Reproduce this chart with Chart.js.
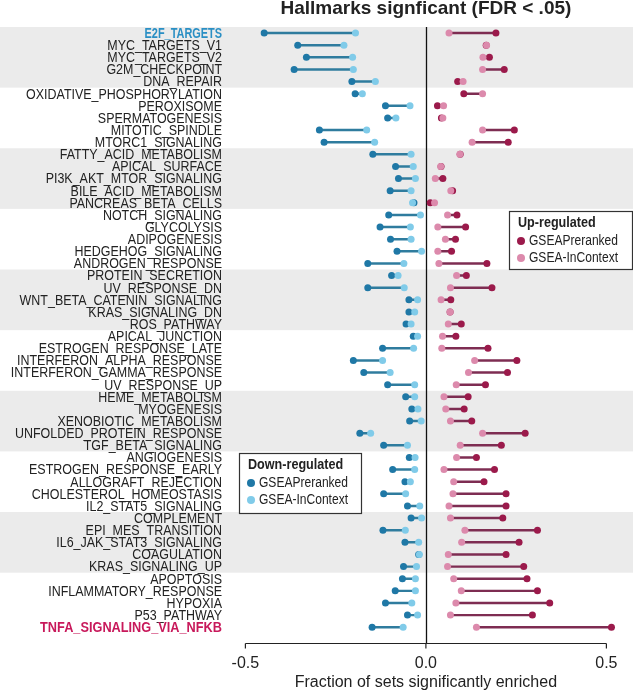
<!DOCTYPE html>
<html>
<head>
<meta charset="utf-8">
<script src="https://cdn.jsdelivr.net/npm/chart.js@4.4.1/dist/chart.umd.min.js"></script>
<style>
  html, body { margin: 0; padding: 0; background: #fff; }
  #wrap { width: 633px; height: 692px; position: relative; }
</style>
</head>
<body>
<div id="wrap"><canvas id="chart"></canvas></div>
<script>
const categories = [
  "E2F_TARGETS", "MYC_TARGETS_V1", "MYC_TARGETS_V2", "G2M_CHECKPOINT", "DNA_REPAIR",
  "OXIDATIVE_PHOSPHORYLATION", "PEROXISOME", "SPERMATOGENESIS", "MITOTIC_SPINDLE", "MTORC1_SIGNALING",
  "FATTY_ACID_METABOLISM", "APICAL_SURFACE", "PI3K_AKT_MTOR_SIGNALING", "BILE_ACID_METABOLISM", "PANCREAS_BETA_CELLS",
  "NOTCH_SIGNALING", "GLYCOLYSIS", "ADIPOGENESIS", "HEDGEHOG_SIGNALING", "ANDROGEN_RESPONSE",
  "PROTEIN_SECRETION", "UV_RESPONSE_DN", "WNT_BETA_CATENIN_SIGNALING", "KRAS_SIGNALING_DN", "ROS_PATHWAY",
  "APICAL_JUNCTION", "ESTROGEN_RESPONSE_LATE", "INTERFERON_ALPHA_RESPONSE", "INTERFERON_GAMMA_RESPONSE", "UV_RESPONSE_UP",
  "HEME_METABOLISM", "MYOGENESIS", "XENOBIOTIC_METABOLISM", "UNFOLDED_PROTEIN_RESPONSE", "TGF_BETA_SIGNALING",
  "ANGIOGENESIS", "ESTROGEN_RESPONSE_EARLY", "ALLOGRAFT_REJECTION", "CHOLESTEROL_HOMEOSTASIS", "IL2_STAT5_SIGNALING",
  "COMPLEMENT", "EPI_MES_TRANSITION", "IL6_JAK_STAT3_SIGNALING", "COAGULATION", "KRAS_SIGNALING_UP",
  "APOPTOSIS", "INFLAMMATORY_RESPONSE", "HYPOXIA", "P53_PATHWAY", "TNFA_SIGNALING_VIA_NFKB"
];

// down-regulated (negative fractions)
const downPreranked = [
  -0.448, -0.355, -0.331, -0.365, -0.205,
  -0.196, -0.112, -0.106, -0.295, -0.282,
  -0.147, -0.084, -0.076, -0.099, -0.033,
  -0.103, -0.127, -0.098, -0.080, -0.161,
  -0.095, -0.161, -0.047, -0.047, -0.055,
  -0.035, -0.120, -0.201, -0.172, -0.106,
  -0.056, -0.039, -0.045, -0.183, -0.117,
  -0.046, -0.092, -0.058, -0.117, -0.051,
  -0.041, -0.119, -0.058, -0.020, -0.062,
  -0.065, -0.085, -0.112, -0.051, -0.149
];
const downInContext = [
  -0.195, -0.227, -0.203, -0.201, -0.140,
  -0.176, -0.044, -0.083, -0.164, -0.142,
  -0.041, -0.035, -0.029, -0.041, -0.037,
  -0.015, -0.043, -0.041, -0.012, -0.061,
  -0.077, -0.060, -0.023, -0.031, -0.041,
  -0.023, -0.034, -0.120, -0.099, -0.031,
  -0.031, -0.022, -0.013, -0.153, -0.051,
  -0.030, -0.031, -0.043, -0.056, -0.017,
  -0.012, -0.057, -0.020, -0.018, -0.026,
  -0.029, -0.029, -0.039, -0.023, -0.063
];

// up-regulated
const upPreranked = [
  0.194, 0.167, 0.176, 0.217, 0.088,
  0.105, 0.032, 0.043, 0.245, 0.228,
  0.095, 0.042, 0.047, 0.074, 0.012,
  0.086, 0.110, 0.082, 0.071, 0.169,
  0.112, 0.183, 0.069, 0.067, 0.098,
  0.083, 0.172, 0.252, 0.226, 0.165,
  0.117, 0.106, 0.127, 0.275, 0.209,
  0.140, 0.190, 0.161, 0.222, 0.222,
  0.213, 0.309, 0.258, 0.222, 0.271,
  0.280, 0.309, 0.343, 0.295, 0.514
];
const upInContext = [
  0.064, 0.168, 0.158, 0.157, 0.103,
  0.157, 0.049, 0.047, 0.157, 0.128,
  0.094, 0.041, 0.026, 0.069, 0.024,
  0.060, 0.033, 0.054, 0.033, 0.036,
  0.085, 0.068, 0.042, 0.067, 0.062,
  0.046, 0.044, 0.135, 0.118, 0.084,
  0.050, 0.055, 0.068, 0.157, 0.095,
  0.085, 0.050, 0.077, 0.075, 0.064,
  0.068, 0.108, 0.099, 0.062, 0.060,
  0.077, 0.098, 0.083, 0.068, 0.140
];

const xTicks = [-0.5, 0, 0.5];
const bandStarts = [0, 10, 20, 30, 40]; // grey blocks of 5 rows
const highlightDown = "E2F_TARGETS";
const highlightUp = "TNFA_SIGNALING_VIA_NFKB";

const FONT = "'Liberation Sans', Arial, Helvetica, sans-serif";
const BLUE_DARK = "#1f78a6";
const BLUE_LIGHT = "#80cbe9";
const BLUE_SEG = "#2f7c9e";
const RED_DARK = "#9b1a4b";
const RED_LIGHT = "#dc8aac";
const RED_SEG = "#7e2d52";

const pts = (arr) => arr.map((v, i) => ({ x: v, y: i }));
const segs = (a, b) => a.map((v, i) => ({ x: [v, b[i]], y: i }));

function squeeze(ctx, text, x, y, align, sx) {
  ctx.save();
  ctx.translate(x, y);
  ctx.scale(sx, 1);
  ctx.textAlign = align;
  ctx.fillText(text, 0, 0);
  ctx.restore();
}

function drawLegend(ctx, box, title, items) {
  ctx.save();
  ctx.fillStyle = "#fff";
  ctx.fillRect(box.x, box.y, box.w, box.h);
  ctx.strokeStyle = "#333";
  ctx.lineWidth = 1.2;
  ctx.strokeRect(box.x + 0.5, box.y + 0.5, box.w, box.h);
  ctx.fillStyle = "#222";
  ctx.textBaseline = "middle";
  ctx.font = "bold 14px " + FONT;
  squeeze(ctx, title, box.x + 9, box.y + 12, "left", 0.9);
  ctx.font = "14px " + FONT;
  items.forEach((it, k) => {
    const cy = box.y + 30 + k * 17;
    ctx.beginPath();
    ctx.arc(box.x + 12, cy, 4, 0, Math.PI * 2);
    ctx.fillStyle = it.color;
    ctx.fill();
    ctx.fillStyle = "#222";
    squeeze(ctx, it.label, box.x + 20, cy, "left", 0.86);
  });
  ctx.restore();
}

const decor = {
  id: "decor",
  beforeDraw(chart) {
    const { ctx, scales: { y } } = chart;
    ctx.save();
    ctx.fillStyle = "#fff";
    ctx.fillRect(0, 0, chart.width, chart.height);
    ctx.fillStyle = "#ebebeb";
    bandStarts.forEach((s) => {
      const top = y.getPixelForValue(s - 0.5);
      const bot = y.getPixelForValue(s + 4.5);
      ctx.fillRect(0, top, chart.width, bot - top);
    });
    ctx.restore();
  },
  beforeDatasetsDraw(chart) {
    const { ctx, chartArea, scales: { x } } = chart;
    const x0 = Math.round(x.getPixelForValue(0)) + 0.5;
    ctx.save();
    ctx.strokeStyle = "#111";
    ctx.lineWidth = 1.3;
    ctx.beginPath();
    ctx.moveTo(x0, chartArea.top);
    ctx.lineTo(x0, chartArea.bottom);
    ctx.stroke();
    ctx.restore();
  },
  afterDraw(chart) {
    const { ctx, chartArea, scales: { x, y } } = chart;
    ctx.save();
    // row labels
    ctx.textBaseline = "middle";
    categories.forEach((name, i) => {
      const py = y.getPixelForValue(i);
      let sx = 0.89;
      if (name === highlightDown) {
        ctx.font = "bold 14px " + FONT;
        ctx.fillStyle = "#2a8fc4";
        sx = 0.78;
      } else if (name === highlightUp) {
        ctx.font = "bold 14px " + FONT;
        ctx.fillStyle = "#c8195b";
        sx = 0.91;
      } else {
        ctx.font = "14px " + FONT;
        ctx.fillStyle = "#222";
      }
      squeeze(ctx, name, 222, py + 1, "right", sx);
    });

    // title
    ctx.font = "bold 19px " + FONT;
    ctx.fillStyle = "#222";
    ctx.textAlign = "center";
    ctx.fillText("Hallmarks signficant (FDR < .05)", x.getPixelForValue(0), 9);

    // x axis line, ticks, labels, title
    const ay = Math.round(chartArea.bottom) + 0.5;
    ctx.strokeStyle = "#222";
    ctx.lineWidth = 1.2;
    ctx.beginPath();
    ctx.moveTo(x.getPixelForValue(xTicks[0]), ay);
    ctx.lineTo(x.getPixelForValue(xTicks[xTicks.length - 1]), ay);
    xTicks.forEach((t) => {
      const px = x.getPixelForValue(t);
      ctx.moveTo(px, ay);
      ctx.lineTo(px, ay + 5);
    });
    ctx.stroke();
    ctx.font = "16px " + FONT;
    xTicks.forEach((t) => {
      ctx.fillText(t.toFixed(1), x.getPixelForValue(t), ay + 20);
    });
    ctx.fillText("Fraction of sets significantly enriched", x.getPixelForValue(0), ay + 39);

    drawLegend(ctx, { x: 509, y: 211, w: 123, h: 58 }, "Up-regulated", [
      { label: "GSEAPreranked", color: RED_DARK },
      { label: "GSEA-InContext", color: RED_LIGHT }
    ]);
    drawLegend(ctx, { x: 239, y: 453, w: 122, h: 60 }, "Down-regulated", [
      { label: "GSEAPreranked", color: BLUE_DARK },
      { label: "GSEA-InContext", color: BLUE_LIGHT }
    ]);
    ctx.restore();
  }
};

const dot = (label, data, color, order) => ({
  type: "scatter",
  label,
  data,
  backgroundColor: color,
  borderWidth: 0,
  pointRadius: 3.5,
  pointHoverRadius: 3.5,
  order
});

const seg = (label, data, color) => ({
  type: "bar",
  label,
  data,
  indexAxis: "y",
  grouped: false,
  backgroundColor: color,
  borderWidth: 0,
  barThickness: 1.8,
  order: 10
});

new Chart(document.getElementById("chart"), {
  type: "scatter",
  data: {
    datasets: [
      seg("down segment", segs(downPreranked, downInContext), BLUE_SEG),
      seg("up segment", segs(upInContext, upPreranked), RED_SEG),
      dot("Down GSEAPreranked", pts(downPreranked), BLUE_DARK, 5),
      dot("Up GSEAPreranked", pts(upPreranked), RED_DARK, 5),
      dot("Down GSEA-InContext", pts(downInContext), BLUE_LIGHT, 1),
      dot("Up GSEA-InContext", pts(upInContext), RED_LIGHT, 1)
    ]
  },
  options: {
    responsive: true,
    maintainAspectRatio: false,
    animation: false,
    events: [],
    layout: { padding: { left: 208, right: 0, top: 27, bottom: 49 } },
    plugins: {
      legend: { display: false },
      tooltip: { enabled: false },
      title: { display: false }
    },
    scales: {
      x: {
        type: "linear",
        min: -0.6036,
        max: 0.564,
        offset: false,
        display: false
      },
      y: {
        type: "linear",
        min: -0.5,
        max: 50.3,
        reverse: true,
        offset: false,
        display: false
      }
    }
  },
  plugins: [decor]
});
</script>
</body>
</html>
